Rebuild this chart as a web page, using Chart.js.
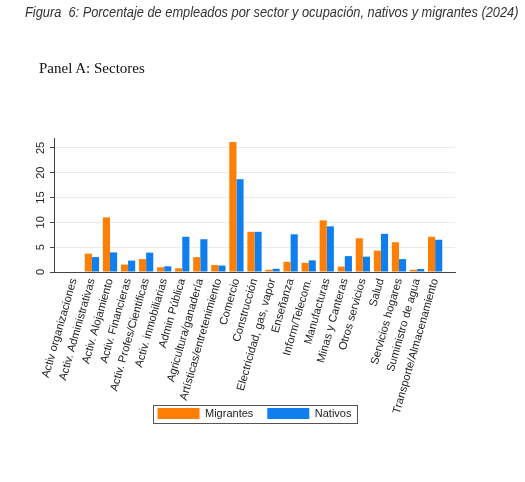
<!DOCTYPE html>
<html lang="es">
<head>
<meta charset="utf-8">
<title>Figura 6</title>
<script src="https://cdn.jsdelivr.net/npm/chart.js@4.4.1/dist/chart.umd.min.js"></script>
<style>
    html, body { margin: 0; padding: 0; background: #fff; }
    body { width: 525px; height: 482px; position: relative; overflow: hidden; }
    #titulo {
        position: absolute; left: 25px; top: 4px;
        font: italic 14px "Liberation Sans", Arial, sans-serif;
        color: #333; white-space: pre;
        transform: scaleX(0.915); transform-origin: left top;
    }
    #panel {
        position: absolute; left: 39px; top: 60px;
        font: 15px "Liberation Serif", "Times New Roman", serif;
        color: #111;
    }
    canvas { position: absolute; left: 0; top: 0; }
</style>
</head>
<body>
<canvas id="grafico" width="525" height="482"></canvas>
<div id="titulo">Figura  6: Porcentaje de empleados por sector y ocupación, nativos y migrantes (2024)</div>
<div id="panel">Panel A: Sectores</div>
<script>
// Panel A: porcentaje de empleados por sector
const SECTORES = [
    'Activ organizaciones', 'Activ. Administrativas', 'Activ. Alojamiento', 'Activ. Financieras',
    'Activ. Profes/Cientificas', 'Activ. inmobiliarias', 'Admin Pública', 'Agricultura/ganadería',
    'Artísticas/entretenimiento', 'Comercio', 'Construcción', 'Electricidad, gas, vapor',
    'Enseñanza', 'Inform/Telecom.', 'Manufacturas', 'Minas y Canteras', 'Otros servicios',
    'Salud', 'Servicios hogares', 'Suministro de agua', 'Transporte/Almacenamiento'
];
const MIGRANTES = [0.1, 3.7, 11.0, 1.5, 2.6, 0.95, 0.75, 3.0, 1.4, 26.2, 8.1, 0.45, 2.05, 1.85, 10.4, 1.1, 6.8, 4.3, 6.0, 0.45, 7.1];
const NATIVOS = [0.1, 3.0, 3.95, 2.3, 3.9, 1.15, 7.1, 6.6, 1.3, 18.7, 8.1, 0.65, 7.6, 2.35, 9.2, 3.2, 3.1, 7.7, 2.6, 0.6, 6.5];
const Y_TICKS = [0, 5, 10, 15, 20, 25];

const COR_MIGRANTES = '#fd7f05';
const COR_NATIVOS = '#0f7ff0';
const FONTE = '"Liberation Sans", Arial, sans-serif';

// la leyenda se superpone a las etiquetas largas del eje x, como en el original
const leyendaArriba = {
    id: 'leyendaArriba',
    afterLayout(chart) {
        const ley = chart.legend;
        if (!ley) return;
        const alto = ley.height;
        ley.top = chart.chartArea.bottom + 122;
        ley.bottom = ley.top + alto;
    },
    afterDraw(chart) {
        const cajas = chart.legend && chart.legend.legendHitBoxes;
        if (!cajas || !cajas.length) return;
        const izq = Math.min(...cajas.map(c => c.left)) - 5;
        const der = Math.max(...cajas.map(c => c.left + c.width)) + 5;
        const arriba = cajas[0].top - 3;
        const abajo = cajas[0].top + cajas[0].height + 4;
        const ctx = chart.ctx;
        ctx.save();
        ctx.strokeStyle = '#555';
        ctx.lineWidth = 1;
        ctx.strokeRect(Math.round(izq) + 0.5, Math.round(arriba) + 0.5, Math.round(der - izq), Math.round(abajo - arriba));
        ctx.restore();
    }
};

const ctx = document.getElementById('grafico');

new Chart(ctx, {
    type: 'bar',
    data: {
        datasets: [{
            label: 'Migrantes',
            data: MIGRANTES.map((v, i) => ({ x: i, y: v })),
            backgroundColor: COR_MIGRANTES,
            borderWidth: 0,
            barPercentage: 1,
            categoryPercentage: 0.79
        }, {
            label: 'Nativos',
            data: NATIVOS.map((v, i) => ({ x: i, y: v })),
            backgroundColor: COR_NATIVOS,
            borderWidth: 0,
            barPercentage: 1,
            categoryPercentage: 0.79
        }]
    },
    options: {
        responsive: false,
        animation: false,
        layout: { padding: { top: 138, left: 0, right: 70, bottom: 25 } },
        plugins: {
            legend: {
                position: 'bottom',
                fullSize: false,
                labels: {
                    boxWidth: 42,
                    boxHeight: 11,
                    padding: 14,
                    color: '#222',
                    font: { family: FONTE, size: 11 }
                }
            },
            tooltip: { enabled: false }
        },
        scales: {
            x: {
                type: 'linear',
                offset: false,
                min: -1.1,
                max: SECTORES.length - 1 + 1.1,
                afterBuildTicks: (escala) => { escala.ticks = SECTORES.map((_, i) => ({ value: i })); },
                afterFit: (escala) => { escala.height = 150; },
                grid: { display: false, drawTicks: false },
                border: { display: true, color: '#444', width: 1 },
                ticks: {
                    autoSkip: false,
                    minRotation: 74,
                    maxRotation: 74,
                    padding: 5,
                    color: '#222',
                    font: { family: FONTE, size: 11.2 },
                    callback: (v) => SECTORES[v]
                }
            },
            y: {
                min: 0,
                max: 27,
                afterBuildTicks: (escala) => { escala.ticks = Y_TICKS.map(v => ({ value: v })); },
                afterFit: (escala) => { escala.width = 54; },
                grid: {
                    color: (c) => (c.tick && c.tick.value === 0) ? 'rgba(0,0,0,0)' : '#ebebeb',
                    tickColor: '#444',
                    tickLength: 4,
                    lineWidth: 1
                },
                border: { color: '#444', width: 1 },
                ticks: {
                    minRotation: 90,
                    maxRotation: 90,
                    crossAlign: 'center',
                    padding: 3,
                    color: '#222',
                    font: { family: FONTE, size: 11 }
                }
            }
        }
    },
    plugins: [leyendaArriba]
});
</script>
</body>
</html>
